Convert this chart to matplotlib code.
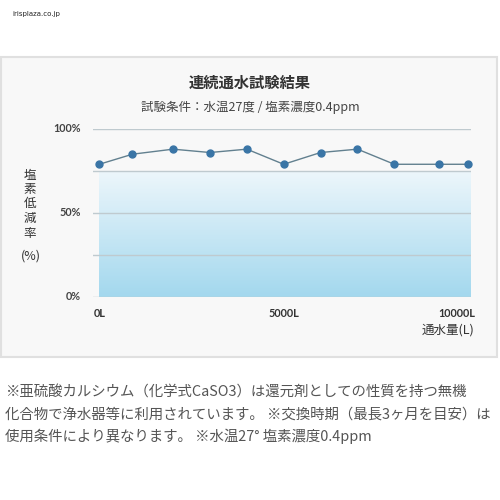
import numpy as np
import matplotlib
matplotlib.use("Agg")
import matplotlib.pyplot as plt
from matplotlib.patches import Rectangle
from matplotlib.colors import LinearSegmentedColormap

plt.rcParams['font.family'] = ['Noto Sans CJK JP', 'DejaVu Sans']

# data
volume = [0, 900, 2000, 3000, 4000, 5000, 6000, 7000, 8000, 9200, 10000]
reduction = [79, 85, 88, 86, 88, 79, 86, 88, 79, 79, 79]
y_ticks = [0, 50, 100]
y_tick_labels = ['0%', '50%', '100%']
x_ticks = [0, 5000, 10000]
x_tick_labels = ['0L', '5000L', '10000L']
grid_levels = [0, 25, 50, 75, 100]
fill_top = 74

title = '連続通水試験結果'
subtitle = '試験条件：水温27度 / 塩素濃度0.4ppm'
y_label_chars = ['塩', '素', '低', '減', '率']
notes = [
    '※亜硫酸カルシウム（化学式CaSO3）は還元剤としての性質を持つ無機',
    '化合物で浄水器等に利用されています。 ※交換時期（最長3ヶ月を目安）は',
    '使用条件により異なります。 ※水温27° 塩素濃度0.4ppm',
]

W, H = 500, 500
fig = plt.figure(figsize=(5, 5), dpi=100)
fig.patch.set_facecolor('white')

def fx(px):
    return px / W

def fy(py):
    return 1 - py / H

# grey panel
fig.patches.append(Rectangle((fx(1), fy(357)), fx(496), 300 / H, transform=fig.transFigure,
                             facecolor='#f8f8f8', edgecolor='#e0e0e0', lw=1.5, zorder=-5))

left, right, top, bottom = 93.3, 471, 129, 297
ax = fig.add_axes([fx(left), fy(bottom), (right - left) / W, (bottom - top) / H])
ax.set_zorder(2)
ax.set_facecolor('none')
px_per_l = 184.4 / 5000
x0 = -(99.3 - left) / px_per_l
x1 = (right - 99.3) / px_per_l

# gradient fill
cmap = LinearSegmentedColormap.from_list('fill', ['#a3d8ee', '#ecf6fb'])
grad = np.linspace(0, 1, 200).reshape(-1, 1)
ax.imshow(grad, extent=[0, x1, 0, fill_top], origin='lower', aspect='auto', cmap=cmap, zorder=1)
ax.set_xlim(x0, x1)
ax.set_ylim(0, 100)

for g in grid_levels:
    ax.axhline(g, color='#bfcacf', lw=1, zorder=2)

ax.plot(volume, reduction, color='#62808f', lw=1, marker='o', markersize=5,
        markerfacecolor='#3a75a6', markeredgecolor='#3a75a6', zorder=3, clip_on=False)

for s in ax.spines.values():
    s.set_visible(False)
ax.set_xticks([])
ax.set_yticks([])

for v, lab in zip(y_ticks, y_tick_labels):
    ax.text(x0 - 330, v, lab, ha='right', va='center', fontsize=7.8, fontweight='bold',
            color='#444444', family=['Lato', 'DejaVu Sans'])
for v, lab in zip(x_ticks, x_tick_labels):
    xx = v
    if v == x_ticks[-1]:
        xx = v - 300
    ax.text(xx, -10, lab, ha='center', va='center', fontsize=7.8, fontweight='bold',
            color='#333333', family=['Lato', 'DejaVu Sans'])

fig.text(fx(250), fy(83), title, ha='center', va='center', fontsize=11, fontweight='bold', color='#333333')
fig.text(fx(250), fy(107), subtitle, ha='center', va='center', fontsize=9, color='#444444')

for i, ch in enumerate(y_label_chars):
    fig.text(fx(30), fy(175 + i * 14.5), ch, ha='center', va='center', fontsize=9, color='#333333')
fig.text(fx(31), fy(256), '(%)', ha='center', va='center', fontsize=9, color='#333333')

fig.text(fx(474), fy(330), '通水量(L)', ha='right', va='center', fontsize=9, color='#333333')

fig.text(fx(12), fy(14), 'irisplaza.co.jp', ha='left', va='center', fontsize=5, color='#222222',
         family=['DejaVu Sans'])

for i, line in enumerate(notes):
    fig.text(fx(5), fy(393 + i * 21.5), line, ha='left', va='center', fontsize=10.4, color='#555555')

fig.savefig('out.png', dpi=100)
